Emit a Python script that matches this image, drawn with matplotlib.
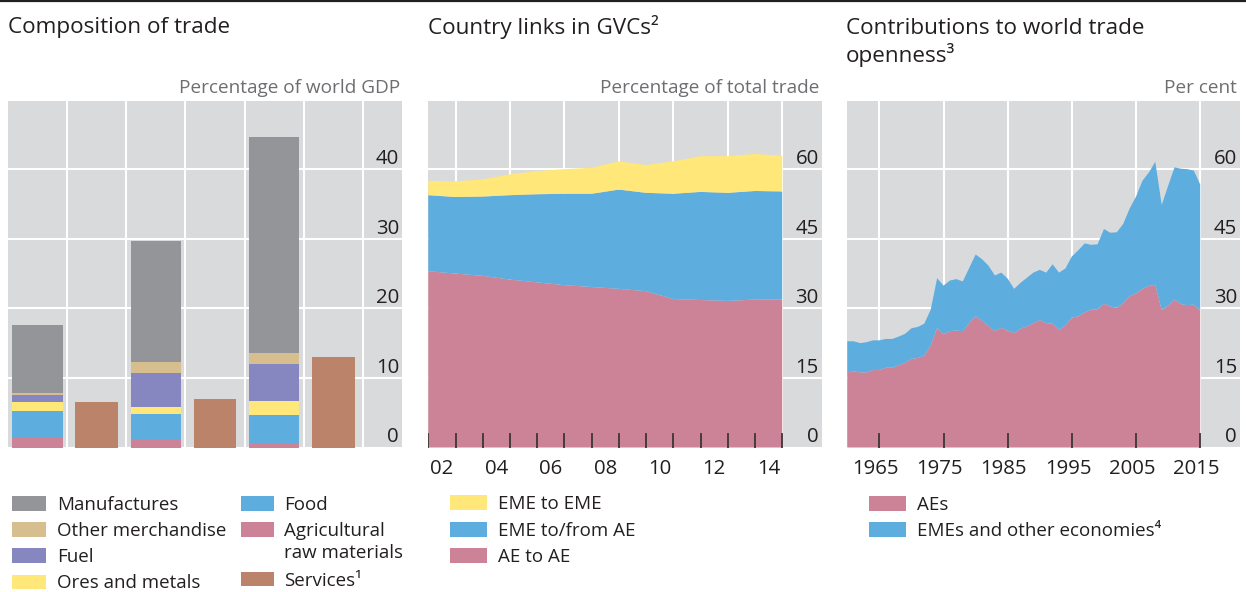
import matplotlib
matplotlib.use('Agg')
import matplotlib.pyplot as plt
import matplotlib.transforms as mtrans
from matplotlib.patches import Rectangle
from matplotlib.lines import Line2D
import numpy as np

plt.rcParams['font.family'] = ['Open Sans', 'DejaVu Sans']

# ---------------- data ----------------
# Panel 1: composition of trade (% of world GDP)
comp_years = ['1965', '1985', '2015']
agri = [1.5, 1.05, 0.65]
food = [3.7, 3.7, 4.0]
ores = [1.3, 1.1, 2.0]
fuel = [1.0, 4.9, 5.4]
other_merch = [0.35, 1.5, 1.5]
manufactures = [9.8, 17.5, 31.1]
services = [6.55, 6.9, 13.0]

# Panel 2: country links in GVCs (% of total trade)
gvc_x = [2002, 2003, 2004, 2005, 2006, 2007, 2008, 2009, 2010, 2011, 2012, 2013, 2014, 2015]
gvc_labels = ['02', '04', '06', '08', '10', '12', '14']
ae_to_ae = [38.0, 37.5, 37.0, 36.2, 35.6, 35.0, 34.6, 34.2, 33.7, 32.0, 31.8, 31.6, 31.9, 31.9]
eme_to_ae = [16.4, 16.5, 17.1, 18.2, 19.0, 19.7, 20.1, 21.4, 21.2, 22.7, 23.3, 23.3, 23.4, 23.3]
eme_to_eme = [3.1, 3.4, 3.7, 4.5, 5.0, 5.3, 5.6, 6.1, 6.0, 7.0, 7.7, 7.9, 8.0, 7.7]

# Panel 3: contributions to world trade openness (per cent)
open_years = list(range(1960, 2016))
aes = [16.2, 16.4, 16.2, 16.2, 16.7, 16.7, 17.2, 17.2, 17.7, 18.2,
       19.1, 19.3, 19.8, 22.0, 25.8, 24.4, 25.1, 25.2, 25.1, 26.8,
       28.3, 27.3, 26.2, 25.1, 25.8, 25.2, 24.7, 25.6, 26.1, 26.8,
       27.5, 26.8, 26.7, 25.4, 26.3, 28.0, 28.3, 29.1, 29.7, 29.8,
       31.0, 30.4, 30.1, 31.1, 32.6, 33.2, 34.2, 34.8, 35.1, 29.6,
       30.6, 31.9, 30.9, 30.7, 30.8, 29.6]
emes = [6.7, 6.5, 6.3, 6.5, 6.4, 6.4, 6.2, 6.2, 6.2, 6.3,
        6.6, 6.7, 6.9, 7.7, 10.7, 10.5, 10.9, 11.1, 10.7, 11.9,
        13.3, 13.3, 13.0, 12.0, 11.9, 11.2, 9.5, 9.9, 10.5, 10.9,
        10.8, 10.9, 12.8, 12.3, 12.3, 13.2, 14.2, 14.9, 14.0, 14.0,
        16.1, 15.9, 16.3, 17.1, 18.9, 20.9, 23.3, 24.5, 26.5, 22.7,
        25.8, 28.5, 29.2, 29.3, 28.9, 27.1]
open_ticks = [1965, 1975, 1985, 1995, 2005, 2015]

# ---------------- style ----------------
BG = '#D9DADC'
C_MANUF = '#939598'
C_OTHER = '#D7BE8E'
C_FUEL = '#8686C0'
C_ORES = '#FFE77A'
C_FOOD = '#5DADDF'
C_AGRI = '#CC8397'
C_SERV = '#BB846A'
TXT = '#231F20'
GREY_TXT = '#6D6E71'

W, H = 1246, 592
fig = plt.figure(figsize=(W / 100, H / 100), dpi=100)


def add_ax(l, r, t, b):
    return fig.add_axes([l / W, 1 - b / H, (r - l) / W, (b - t) / H])


def fx(x):
    return x / W


def fy(y):
    return 1 - y / H


TOP, BOT = 101, 447.5
TICK_FS = 14.7
TITLE_FS = 16.2
UNIT_FS = 13.7
LEG_FS = 13.5


def style_ax(ax, yticks):
    ax.set_facecolor(BG)
    for s in ax.spines.values():
        s.set_visible(False)
    ax.set_yticks(yticks)
    ax.tick_params(axis='y', length=0, labelleft=False, labelright=False)
    ax.grid(True, axis='both', color='white', lw=1.5)
    ax.set_axisbelow(True)
    off = mtrans.ScaledTranslation(-3 / 100, 5 / 100, fig.dpi_scale_trans)
    tr = mtrans.blended_transform_factory(ax.transAxes, ax.transData) + off
    for v in yticks:
        ax.text(1, v, str(v), transform=tr, ha='right', va='baseline',
                fontsize=TICK_FS, color=TXT, zorder=5)


# ---------------- Panel 1 ----------------
ax1 = add_ax(8, 402, TOP, BOT)
n = len(comp_years)
pos_m = np.arange(n) * 2
pos_s = pos_m + 1
bottom = np.zeros(n)
for vals, col in [(agri, C_AGRI), (food, C_FOOD), (ores, C_ORES), (fuel, C_FUEL),
                  (other_merch, C_OTHER), (manufactures, C_MANUF)]:
    ax1.bar(pos_m, vals, width=0.85, bottom=bottom, color=col, zorder=3)
    bottom = bottom + np.array(vals)
ax1.bar(pos_s, services, width=0.72, color=C_SERV, zorder=3)
ax1.set_xlim(-0.5, 6.16)
ax1.set_ylim(0, 49.8)
ax1.set_xticks(np.arange(0.5, 6, 1))
ax1.tick_params(axis='x', length=0, labelbottom=False)
ax1.set_xticks(pos_m + 0.5, minor=True)
ax1.set_xticklabels(comp_years, minor=True)
ax1.tick_params(axis='x', which='minor', length=0, pad=8, labelsize=TICK_FS, labelcolor=TXT)
style_ax(ax1, [0, 10, 20, 30, 40])
ax1.grid(False, which='minor')

# ---------------- Panel 2 ----------------
ax2 = add_ax(428.3, 821.7, TOP, BOT)
ax2.stackplot(gvc_x, ae_to_ae, eme_to_ae, eme_to_eme,
              colors=[C_AGRI, C_FOOD, C_ORES], lw=0, zorder=2)
ax2.set_xlim(2002, 2016.45)
ax2.set_ylim(0, 74.7)
ax2.set_xticks(gvc_x[1::2])
ax2.tick_params(axis='x', which='major', length=0, labelbottom=False)
style_ax(ax2, [0, 15, 30, 45, 60])
ax2.set_xticks([g + 0.5 for g in gvc_x[0:-1:2]], minor=True)
ax2.set_xticklabels(gvc_labels, minor=True)
ax2.tick_params(axis='x', which='minor', length=0, pad=8, labelsize=TICK_FS, labelcolor=TXT)
ax2.grid(False, which='minor')
tick_tr2 = mtrans.blended_transform_factory(ax2.transData, ax2.transAxes)
for g in gvc_x:
    ax2.add_line(Line2D([g, g], [0, 14 / 346.5], transform=tick_tr2,
                        color='#3A3536', lw=1.3, zorder=4))

# ---------------- Panel 3 ----------------
ax3 = add_ax(847.3, 1240, TOP, BOT)
ax3.stackplot(open_years, aes, emes, colors=[C_AGRI, C_FOOD], lw=0, zorder=2)
ax3.set_xlim(1960, 2021.2)
ax3.set_ylim(0, 74.7)
ax3.set_xticks(open_ticks)
ax3.tick_params(axis='x', which='major', length=0, labelbottom=False)
style_ax(ax3, [0, 15, 30, 45, 60])
ax3.set_xticks([t - 0.6 for t in open_ticks], minor=True)
ax3.set_xticklabels([str(t) for t in open_ticks], minor=True)
ax3.tick_params(axis='x', which='minor', length=0, pad=8, labelsize=TICK_FS, labelcolor=TXT)
ax3.grid(False, which='minor')
tick_tr3 = mtrans.blended_transform_factory(ax3.transData, ax3.transAxes)
for t in open_ticks:
    ax3.add_line(Line2D([t, t], [0, 14 / 346.5], transform=tick_tr3,
                        color='#3A3536', lw=1.3, zorder=4))

# ---------------- titles / units ----------------
fig.add_artist(Line2D([0, 1], [fy(0.8), fy(0.8)], transform=fig.transFigure,
                      color=TXT, lw=1.6))
fig.text(fx(8), fy(27), 'Composition of trade', fontsize=TITLE_FS, color=TXT, va='center')
fig.text(fx(428), fy(27), 'Country links in GVCs²', fontsize=TITLE_FS, color=TXT, va='center')
fig.text(fx(846), fy(28), 'Contributions to world trade', fontsize=TITLE_FS, color=TXT, va='center')
fig.text(fx(846), fy(55), 'openness³', fontsize=TITLE_FS, color=TXT, va='center')
fig.text(fx(400), fy(88), 'Percentage of world GDP', fontsize=UNIT_FS, color=GREY_TXT,
         ha='right', va='center')
fig.text(fx(819), fy(88), 'Percentage of total trade', fontsize=UNIT_FS, color=GREY_TXT,
         ha='right', va='center')
fig.text(fx(1237), fy(88), 'Per cent', fontsize=UNIT_FS, color=GREY_TXT,
         ha='right', va='center')


# ---------------- legends ----------------
def leg_item(x0, x1, xt, yc, color, label):
    fig.add_artist(Rectangle((fx(x0), fy(yc + 7.3)), (x1 - x0) / W, 14.6 / H,
                             transform=fig.transFigure, color=color, lw=0))
    fig.text(fx(xt), fy(yc + 1.5), label, fontsize=LEG_FS, color=TXT, va='center')


leg_item(12, 45.7, 56.7, 503.3, C_MANUF, 'Manufactures')
leg_item(12, 45.7, 56.7, 529.3, C_OTHER, 'Other merchandise')
leg_item(12, 45.7, 56.7, 555.7, C_FUEL, 'Fuel')
leg_item(12, 45.7, 56.7, 582, C_ORES, 'Ores and metals')
leg_item(241, 274.3, 284.3, 503.3, C_FOOD, 'Food')
fig.add_artist(Rectangle((fx(241), fy(529.3 + 7.3)), 33.3 / W, 14.6 / H,
                         transform=fig.transFigure, color=C_AGRI, lw=0))
fig.text(fx(284.3), fy(530.8), 'Agricultural', fontsize=LEG_FS, color=TXT, va='center')
fig.text(fx(284.3), fy(553.2), 'raw materials', fontsize=LEG_FS, color=TXT, va='center')
leg_item(241, 274.3, 284.3, 579, C_SERV, 'Services¹')

leg_item(450, 486.7, 498.3, 502.3, C_ORES, 'EME to EME')
leg_item(450, 486.7, 498.3, 529.3, C_FOOD, 'EME to/from AE')
leg_item(450, 486.7, 498.3, 555.7, C_AGRI, 'AE to AE')

leg_item(869, 905.7, 916.7, 503.3, C_AGRI, 'AEs')
leg_item(869, 905.7, 916.7, 529.7, C_FOOD, 'EMEs and other economies⁴')

fig.savefig('out.png', dpi=100)
